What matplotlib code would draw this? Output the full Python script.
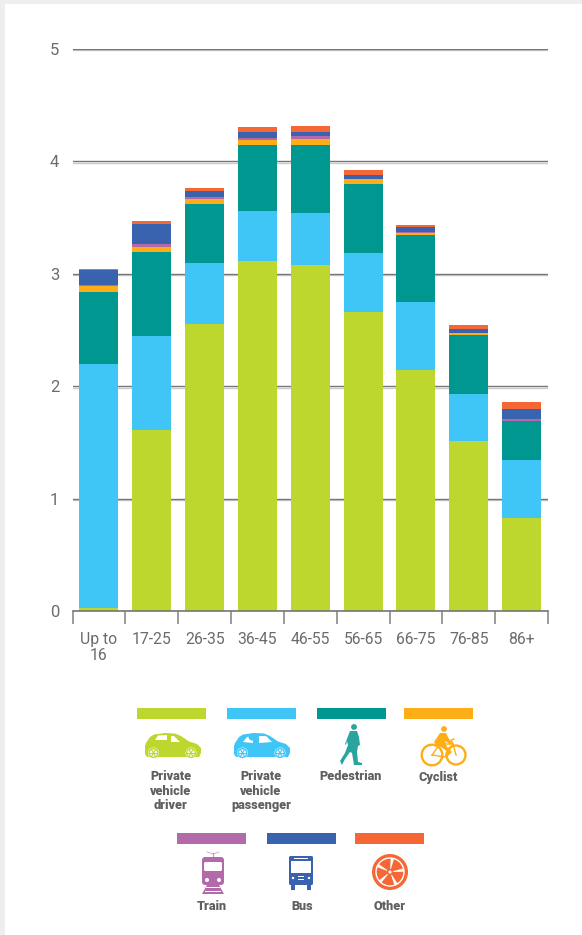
import numpy as np
import matplotlib
matplotlib.use('Agg')
import matplotlib.pyplot as plt
import matplotlib.patheffects as pe
from matplotlib.patches import Circle, Polygon, Rectangle, FancyBboxPatch, Wedge

W, H = 582, 935

age_groups = ['Up to\n16', '17-25', '26-35', '36-45', '46-55', '56-65', '66-75', '76-85', '86+']

# each mode's share of the stack
driver = [0.03, 1.61, 2.55, 3.11, 3.08, 2.66, 2.145, 1.51, 0.83]
passenger = [2.17, 0.84, 0.55, 0.45, 0.46, 0.525, 0.605, 0.42, 0.51]
pedestrian = [0.64, 0.74, 0.52, 0.585, 0.605, 0.615, 0.595, 0.525, 0.35]
cyclist = [0.05, 0.05, 0.045, 0.045, 0.055, 0.04, 0.02, 0.015, 0.0]
train = [0.01, 0.025, 0.015, 0.02, 0.025, 0.005, 0.005, 0.005, 0.015]
bus = [0.13, 0.175, 0.055, 0.05, 0.035, 0.035, 0.045, 0.035, 0.095]
other = [0.01, 0.03, 0.025, 0.045, 0.055, 0.04, 0.02, 0.035, 0.06]

y_ticks = [0, 1, 2, 3, 4, 5]

C_DRIVER = '#bdd72e'
C_PASS = '#40c6f6'
C_PED = '#009791'
C_CYC = '#fdae17'
C_TRAIN = '#b26aa8'
C_BUS = '#3a63af'
C_OTHER = '#f56836'
C_TEXT = '#6a6b6d'
C_BOLD = '#5f6062'

series = [driver, passenger, pedestrian, cyclist, train, bus, other]
colors = [C_DRIVER, C_PASS, C_PED, C_CYC, C_TRAIN, C_BUS, C_OTHER]

fig = plt.figure(figsize=(W / 100, H / 100), dpi=100, facecolor='white')

ax = fig.add_axes([72.5 / W, 1 - 611 / H, 475.5 / W, 562 / H])
x = np.arange(len(age_groups))
bottom = np.zeros(len(age_groups))
for vals, col in zip(series, colors):
    ax.bar(x, vals, width=0.74, bottom=bottom, color=col, linewidth=0, zorder=3)
    bottom += np.array(vals)

ax.set_xlim(-0.5, len(age_groups) - 0.5)
ax.set_ylim(0, 5)
ax.set_yticks(y_ticks)
ax.set_xticks(np.arange(len(age_groups) + 1) - 0.5)
ax.set_xticklabels([])
ax.set_xticks(x, minor=True)
ax.set_xticklabels(age_groups, minor=True, fontsize=11.3, color=C_TEXT,
                   family='Roboto', fontweight='normal', linespacing=1.1)
ax.tick_params(axis='x', which='major', length=9.5, width=1.1, color='#808080')
ax.tick_params(axis='x', which='minor', length=0, pad=15)
ax.tick_params(axis='y', length=0, pad=9.5)
for lab in ax.get_yticklabels():
    lab.set_fontsize(12)
    lab.set_color(C_TEXT)
    lab.set_family('Roboto')
    lab.set_fontweight('normal')
ax.yaxis.grid(True, color='#767676', linewidth=1.0, zorder=1, path_effects=[
    pe.SimpleLineShadow(offset=(0, -1), shadow_color='#aaaaaa', alpha=0.6), pe.Normal()])
ax.set_axisbelow(True)
for s in ['top', 'left', 'right']:
    ax.spines[s].set_visible(False)
ax.spines['bottom'].set_color('#767676')
ax.spines['bottom'].set_linewidth(1.2)
ax.spines['bottom'].set_zorder(4)

# overlay in pixel coordinates for the page border, legend swatches and icons
pg = fig.add_axes([0, 0, 1, 1], zorder=5)
pg.set_xlim(0, W)
pg.set_ylim(H, 0)
pg.axis('off')
pg.patch.set_alpha(0)
pg.add_patch(Rectangle((0, 0), W, 4, color='#eeeeee', lw=0))
pg.add_patch(Rectangle((0, 0), 5, H, color='#eeeeee', lw=0))


def draw_wheel(cx, cy, r, col):
    pg.add_patch(Circle((cx, cy), r, color='white', lw=0))
    pg.add_patch(Circle((cx, cy), r * 0.8, fc='white', ec=col, lw=1.0))
    for a in np.arange(0, 360, 60):
        t = np.radians(a)
        pg.plot([cx, cx + r * 0.7 * np.cos(t)], [cy, cy + r * 0.7 * np.sin(t)], color=col, lw=0.8)


def draw_car(x0, col, head=False):
    # x0 is the rear of the car, y range 733-760
    outline = [(0, 13), (1, 10), (5, 4), (9, 1.5), (20, 0), (30, 0.5), (36, 3), (44, 8.5), (52, 11),
               (56, 15), (56, 20), (54, 24), (2, 24), (0, 21)]
    pg.add_patch(Polygon([(x0 + a, 733 + b) for a, b in outline], closed=True, color=col, lw=0))
    if head:
        pg.add_patch(Polygon([(x0 + a, 733 + b) for a, b in [(9, 9), (13, 4), (19, 3), (19, 10)]], color='white', lw=0))
        pg.add_patch(Circle((x0 + 18, 737), 3.5, color=col, lw=0))
        pg.add_patch(Polygon([(x0 + a, 733 + b) for a, b in [(25, 3), (32, 3), (38, 9), (25, 10)]], color='white', lw=0))
    else:
        pg.add_patch(Polygon([(x0 + a, 733 + b) for a, b in [(10, 7), (13, 2.5), (22, 2), (22, 7)]], color='white', lw=0))
        pg.add_patch(Polygon([(x0 + a, 733 + b) for a, b in [(26, 3), (29, 3), (35, 9), (26, 9)]], color='white', lw=0))
    draw_wheel(x0 + 8.5, 753, 5.5, col)
    draw_wheel(x0 + 46, 753, 5.5, col)


def draw_pedestrian(col):
    pg.add_patch(Circle((354, 727), 2.9, color=col, lw=0))
    body = [(350, 731), (357, 731), (359, 737), (360, 745), (358, 746), (357, 752), (358, 762), (362, 763),
            (362, 765), (354, 765), (352, 753), (350, 752), (345, 759), (342, 765), (340, 761), (345, 753),
            (348, 745), (347, 741), (346, 745), (345, 744)]
    pg.add_patch(Polygon(body, closed=True, color=col, lw=0))


def draw_cyclist(col):
    pg.add_patch(Circle((432, 755), 10.3, fc='none', ec=col, lw=1.7))
    pg.add_patch(Circle((456, 755), 9.5, fc='none', ec=col, lw=1.7))
    pg.add_patch(Circle((444, 729), 2.9, color=col, lw=0))
    pg.add_patch(Polygon([(434, 742), (440, 733), (446, 733), (449, 739), (452, 743), (451, 745), (445, 741),
                          (447, 747), (452, 752), (446, 758), (448, 752), (441, 747), (436, 745)], color=col, lw=0))
    pg.plot([432, 440, 453, 456], [755, 744, 744, 755], color=col, lw=1.0)
    pg.plot([432, 445, 453], [755, 757, 744], color=col, lw=1.0)
    pg.plot([453, 451, 454], [744, 740, 739], color=col, lw=1.0)


def draw_train(col):
    pg.plot([207, 213, 219], [852, 854, 852], color=col, lw=0.6, alpha=0.6)
    pg.plot([213, 213], [853, 857], color=col, lw=0.8, alpha=0.7)
    pg.add_patch(FancyBboxPatch((202, 857), 22, 28, boxstyle='round,pad=0,rounding_size=3', color=col, lw=0))
    pg.add_patch(FancyBboxPatch((204, 862), 18, 9, boxstyle='round,pad=0,rounding_size=1.5', color='white', lw=0))
    pg.add_patch(Circle((207, 880), 2, color='white', lw=0))
    pg.add_patch(Circle((219, 880), 2, color='white', lw=0))
    pg.add_patch(Polygon([(207, 885), (219, 885), (224, 894), (202, 894)], color=col, lw=0))
    pg.add_patch(Rectangle((206, 887), 14, 1.2, color='white', lw=0))
    pg.add_patch(Rectangle((205, 890.5), 16, 1.2, color='white', lw=0))


def draw_bus(col):
    pg.add_patch(FancyBboxPatch((289, 856), 24, 29, boxstyle='round,pad=0,rounding_size=1.5', color=col, lw=0))
    pg.add_patch(Rectangle((291, 861), 20, 12, color='white', lw=0))
    pg.add_patch(Rectangle((294, 857.5), 14, 1.2, color='white', lw=0))
    pg.add_patch(Rectangle((291, 885), 4, 5, color=col, lw=0))
    pg.add_patch(Rectangle((307, 885), 4, 5, color=col, lw=0))
    pg.add_patch(Circle((293, 878), 1.2, color='white', lw=0))
    pg.add_patch(Circle((309, 878), 1.2, color='white', lw=0))
    pg.add_patch(Rectangle((298, 876), 6, 1.1, color='white', lw=0))
    pg.add_patch(Rectangle((298, 879), 6, 1.1, color='white', lw=0))


def draw_other(col):
    cx, cy = 390, 872
    pg.add_patch(Circle((cx, cy), 18, color=col, lw=0))
    pg.add_patch(Circle((cx, cy), 14, fc='none', ec='white', lw=1.0))
    for a in [-80, -8, 64, 136, 208]:
        pg.add_patch(Wedge((cx, cy), 14, a - 7, a + 7, color='white', lw=0))
    pg.add_patch(Circle((cx, cy), 3.2, color=col, lw=0))
    pg.add_patch(Circle((cx, cy), 1.6, color='white', lw=0))


def label(cx, cy, txt):
    pg.text(cx, cy, txt, ha='center', va='top', fontsize=9.1, color=C_BOLD, family='Roboto',
            fontweight='black', linespacing=1.13)


row1 = [(137, C_DRIVER), (227, C_PASS), (317, C_PED), (404, C_CYC)]
row2 = [(177, C_TRAIN), (267, C_BUS), (355, C_OTHER)]
for left, col in row1:
    pg.add_patch(Rectangle((left, 708), 69, 11, color=col, lw=0))
for left, col in row2:
    pg.add_patch(Rectangle((left, 833), 69, 11, color=col, lw=0))

draw_car(145, C_DRIVER)
draw_car(234, C_PASS, head=True)
draw_pedestrian('#2aa49e')
draw_cyclist(C_CYC)
draw_train(C_TRAIN)
draw_bus(C_BUS)
draw_other(C_OTHER)

label(171, 770.5, 'Private\nvehicle\ndriver')
label(261, 770.5, 'Private\nvehicle\npassenger')
label(351, 770.5, 'Pedestrian')
label(438, 770.5, 'Cyclist')
label(212, 900.5, 'Train')
label(302, 900.5, 'Bus')
label(390, 900.5, 'Other')

fig.savefig('out.png', dpi=100)
